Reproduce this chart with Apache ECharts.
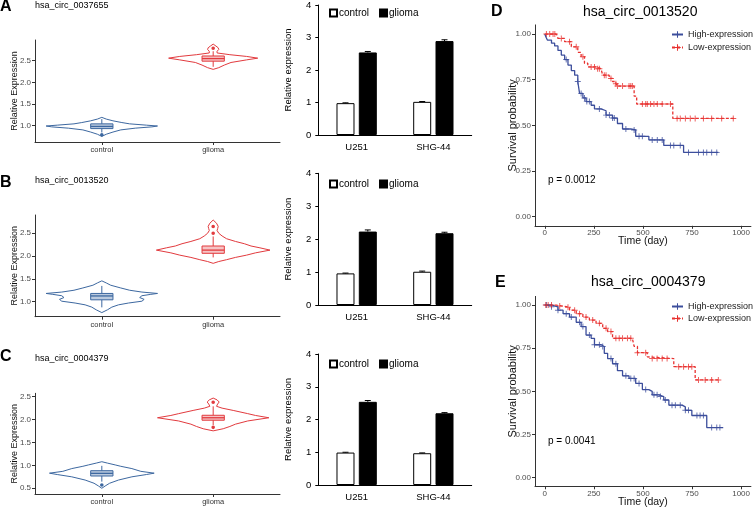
<!DOCTYPE html>
<html><head><meta charset="utf-8">
<script src="https://cdn.jsdelivr.net/npm/echarts@6/dist/echarts.min.js"></script>
<style>html,body{margin:0;padding:0;background:#fff}#c{width:753px;height:509px}</style>
</head><body><div id="c"></div>
<script>
// ---------- DATA ----------
const violinCategories = ['control', 'glioma'];
const violinTitles = ['hsa_circ_0037655', 'hsa_circ_0013520', 'hsa_circ_0004379'];
const aYTicks = [1.0, 1.5, 2.0, 2.5];
const bYTicks = [1.0, 1.5, 2.0, 2.5];
const cYTicks = [0.5, 1.0, 1.5, 2.0, 2.5];
// violin profiles: [value, half width in category units]
const aControlProfile = [[0.75,0],[0.80,0.04],[0.85,0.10],[0.90,0.17],[0.94,0.30],[0.97,0.45],[0.99,0.50],[1.01,0.40],[1.04,0.25],[1.07,0.18],[1.11,0.10],[1.15,0.04],[1.19,0]];
const aGliomaProfile = [[2.30,0],[2.34,0.05],[2.40,0.10],[2.46,0.16],[2.52,0.30],[2.56,0.40],[2.60,0.30],[2.64,0.15],[2.68,0.035],[2.72,0.035],[2.76,0.05],[2.80,0.045],[2.84,0.025],[2.885,0]];
const bControlProfile = [[0.76,0],[0.82,0.05],[0.88,0.09],[0.93,0.15],[0.97,0.24],[1.01,0.36],[1.05,0.38],[1.09,0.34],[1.13,0.36],[1.16,0.44],[1.18,0.50],[1.21,0.36],[1.25,0.25],[1.30,0.17],[1.36,0.08],[1.41,0.04],[1.456,0]];
const bGliomaProfile = [[1.84,0],[1.88,0.05],[1.92,0.12],[1.97,0.20],[2.02,0.30],[2.07,0.38],[2.13,0.51],[2.18,0.42],[2.22,0.34],[2.27,0.28],[2.32,0.20],[2.38,0.12],[2.44,0.08],[2.50,0.05],[2.56,0.035],[2.60,0.04],[2.65,0.045],[2.72,0.03],[2.79,0]];
const cControlProfile = [[0.50,0],[0.55,0.03],[0.61,0.07],[0.68,0.15],[0.75,0.27],[0.80,0.40],[0.83,0.47],[0.87,0.35],[0.93,0.27],[0.98,0.17],[1.01,0.12],[1.05,0.05],[1.08,0]];
const cGliomaProfile = [[1.754,0],[1.80,0.09],[1.85,0.15],[1.90,0.20],[1.97,0.31],[2.04,0.50],[2.09,0.38],[2.13,0.31],[2.20,0.18],[2.25,0.08],[2.29,0.03],[2.34,0.04],[2.384,0.054],[2.43,0.035],[2.47,0]];
// box: [whisker low, q1, median, q3, whisker high]
const aControlBox = [0.84, 0.93, 0.98, 1.04, 1.15];
const aGliomaBox = [2.36, 2.49, 2.55, 2.61, 2.72];
const bControlBox = [0.875, 1.04, 1.125, 1.18, 1.345];
const bGliomaBox = [1.97, 2.06, 2.13, 2.22, 2.43];
const cControlBox = [0.645, 0.768, 0.826, 0.884, 0.99];
const cGliomaBox = [1.88, 1.986, 2.04, 2.094, 2.29];
const aControlOut = [0.785];
const aGliomaOut = [2.79];
const bControlOut = [];
const bGliomaOut = [2.5, 2.647];
const cControlOut = [0.57];
const cGliomaOut = [1.83, 2.38];

const barCategories = ['U251', 'SHG-44'];
const barYTicks = [0, 1, 2, 3, 4];
const aBarControl = [0.98, 1.02], aBarGlioma = [2.54, 2.89];
const bBarControl = [0.96, 1.01], bBarGlioma = [2.23, 2.18];
const cBarControl = [0.99, 0.97], cBarGlioma = [2.54, 2.19];
const aBarControlErr = [0.01, 0.01], aBarGliomaErr = [0.03, 0.04];
const bBarControlErr = [0.01, 0.02], bBarGliomaErr = [0.05, 0.03];
const cBarControlErr = [0.01, 0.01], cBarGliomaErr = [0.04, 0.02];

const kmTitles = ['hsa_circ_0013520', 'hsa_circ_0004379'];
const kmPValues = ['p = 0.0012', 'p = 0.0041'];
const kmXTicks = [0, 250, 500, 750, 1000];
const kmYTicks = [0, 0.25, 0.5, 0.75, 1.0];
// [time, survival after event]
const dHigh = [[0,1],[5,0.985],[13,0.967],[34,0.95],[50,0.935],[67,0.91],[84,0.885],[101,0.86],[118,0.83],[135,0.80],[152,0.775],[168,0.74],[177,0.675],[194,0.65],[210,0.63],[236,0.61],[253,0.59],[286,0.58],[312,0.556],[345,0.54],[370,0.51],[396,0.48],[438,0.475],[463,0.44],[530,0.42],[606,0.39],[707,0.352],[884,0.352]];
const dLow = [[0,1],[59,0.995],[67,0.976],[101,0.958],[135,0.93],[168,0.90],[185,0.876],[202,0.84],[219,0.82],[261,0.81],[286,0.80],[295,0.775],[328,0.757],[345,0.74],[362,0.728],[370,0.715],[455,0.66],[468,0.617],[652,0.538],[968,0.538]];
const eHigh = [[0,1],[34,0.99],[67,0.97],[93,0.95],[126,0.93],[160,0.90],[185,0.875],[210,0.826],[236,0.807],[253,0.77],[286,0.76],[303,0.72],[320,0.69],[345,0.66],[370,0.62],[396,0.59],[429,0.575],[463,0.546],[497,0.51],[530,0.50],[547,0.48],[581,0.47],[606,0.45],[632,0.42],[699,0.41],[716,0.39],[749,0.36],[825,0.29],[909,0.29]];
const eLow = [[0,1],[59,0.995],[84,0.987],[126,0.97],[160,0.95],[194,0.93],[227,0.913],[261,0.894],[295,0.865],[320,0.846],[345,0.807],[446,0.80],[455,0.76],[472,0.724],[522,0.70],[530,0.69],[657,0.643],[766,0.566],[893,0.566]];
// censoring times
const dHighCensor = [109,168,185,202,214,227,278,312,329,345,354,413,455,480,497,547,573,598,640,657,690,732,783,808,825,850,876];
const dLowCensor = [8,25,42,51,84,126,160,194,236,253,269,278,303,312,337,362,370,396,429,438,446,497,514,522,539,556,573,598,640,674,690,716,741,766,808,850,901,960];
const eHighCensor = [8,34,67,109,135,177,194,227,253,278,295,337,362,413,438,455,480,514,556,572,589,614,648,665,690,716,732,775,791,808,850,876,892];
const eLowCensor = [5,17,34,76,118,152,177,210,244,278,312,337,362,379,396,421,438,472,514,547,572,598,623,682,707,732,749,783,817,850,884];

// ---------- STYLE ----------
const FONT = "'Liberation Sans', Arial, sans-serif";
const CTRL = '#3D68A0', CTRL_FILL = 'rgba(61,104,160,0.35)';
const GLI = '#E23A3E', GLI_FILL = 'rgba(226,58,62,0.30)';
const BLUE = '#3C4E9C', RED = '#E8312F';
const PLUS = 'path://M4.2,0H5.8V10H4.2Z M0,4.2H10V5.8H0Z';

const violinGrids = [
  {left: 35, top: 40, width: 245, height: 102},
  {left: 35, top: 215, width: 245, height: 101.7},
  {left: 35, top: 393.3, width: 245, height: 100.7}
];
const violinRanges = [[0.62, 2.98], [0.67, 2.90], [0.375, 2.574]];
const violinTicks = [aYTicks, bYTicks, cYTicks];
const violinItems = [
  [{pos:1, profile:aControlProfile, box:aControlBox, out:aControlOut, c:CTRL, f:CTRL_FILL},
   {pos:2, profile:aGliomaProfile, box:aGliomaBox, out:aGliomaOut, c:GLI, f:GLI_FILL}],
  [{pos:1, profile:bControlProfile, box:bControlBox, out:bControlOut, c:CTRL, f:CTRL_FILL},
   {pos:2, profile:bGliomaProfile, box:bGliomaBox, out:bGliomaOut, c:GLI, f:GLI_FILL}],
  [{pos:1, profile:cControlProfile, box:cControlBox, out:cControlOut, c:CTRL, f:CTRL_FILL},
   {pos:2, profile:cGliomaProfile, box:cGliomaBox, out:cGliomaOut, c:GLI, f:GLI_FILL}]
];

const barGrids = [
  {left: 318.3, top: 3, width: 153.4, height: 132},
  {left: 318.3, top: 173.3, width: 153.4, height: 131.7},
  {left: 318.3, top: 354, width: 153.4, height: 131}
];
const barControls = [aBarControl, bBarControl, cBarControl];
const barGliomas = [aBarGlioma, bBarGlioma, cBarGlioma];
const barControlErrs = [aBarControlErr, bBarControlErr, cBarControlErr];
const barGliomaErrs = [aBarGliomaErr, bBarGliomaErr, cBarGliomaErr];
const barLegendTops = [8, 179, 359];

const kmGrids = [
  {left: 535, top: 24.9, width: 218, height: 200.9},
  {left: 535, top: 296.4, width: 218, height: 189.9}
];
const kmHigh = [dHigh, eHigh], kmLow = [dLow, eLow];
const kmHighC = [dHighCensor, eHighCensor], kmLowC = [dLowCensor, eLowCensor];

function stepAt(curve, t) {
  let s = curve[0][1];
  for (const [ti, si] of curve) { if (ti <= t) s = si; }
  return s;
}

const grid = [], xAxis = [], yAxis = [], series = [], legend = [];

// violins
violinGrids.forEach((g, k) => {
  grid.push(g);
  xAxis.push({gridIndex: k, type: 'value', min: 0.4, max: 2.6,
    axisLine: {show: true, onZero: false, lineStyle: {color: '#333', width: 1}},
    axisTick: {show: true, length: 3, customValues: [1, 2], lineStyle: {color: '#333'}},
    axisLabel: {customValues: [1, 2], formatter: v => violinCategories[Math.round(v) - 1], fontSize: 7.5, color: '#333', margin: 4, fontFamily: FONT},
    splitLine: {show: false}});
  yAxis.push({gridIndex: k, type: 'value', min: violinRanges[k][0], max: violinRanges[k][1],
    axisLine: {show: true, onZero: false, lineStyle: {color: '#333', width: 1}},
    axisTick: {show: true, length: 3, customValues: violinTicks[k], lineStyle: {color: '#333'}},
    axisLabel: {customValues: violinTicks[k], formatter: v => v.toFixed(1), fontSize: 8, color: '#4d4d4d', margin: 4, fontFamily: FONT},
    splitLine: {show: false},
    name: 'Relative Expression', nameLocation: 'middle', nameGap: 16, nameMoveOverlap: false,
    nameTextStyle: {fontSize: 9, color: '#111', fontFamily: FONT}});
  const items = violinItems[k];
  series.push({type: 'custom', name: 'violin' + k, xAxisIndex: k, yAxisIndex: k, silent: true,
    data: items.map(it => [it.pos, it.box[2]]),
    renderItem: (params, api) => {
      const it = items[params.dataIndex];
      const P = (x, y) => api.coord([x, y]);
      const right = it.profile.map(([v, w]) => P(it.pos + w, v));
      const left = it.profile.slice().reverse().map(([v, w]) => P(it.pos - w, v));
      const [wl, q1, med, q3, wh] = it.box;
      const bw = 0.1;
      const tl = P(it.pos - bw, q3), br = P(it.pos + bw, q1);
      const children = [
        {type: 'polygon', shape: {points: right.concat(left)}, style: {fill: '#fff', stroke: it.c, lineWidth: 1}},
        {type: 'line', shape: {x1: P(it.pos, q3)[0], y1: P(it.pos, q3)[1], x2: P(it.pos, wh)[0], y2: P(it.pos, wh)[1]}, style: {stroke: it.c, lineWidth: 1}},
        {type: 'line', shape: {x1: P(it.pos, q1)[0], y1: P(it.pos, q1)[1], x2: P(it.pos, wl)[0], y2: P(it.pos, wl)[1]}, style: {stroke: it.c, lineWidth: 1}},
        {type: 'rect', shape: {x: tl[0], y: tl[1], width: br[0] - tl[0], height: br[1] - tl[1]}, style: {fill: it.f, stroke: it.c, lineWidth: 1}},
        {type: 'line', shape: {x1: tl[0], y1: P(it.pos, med)[1], x2: br[0], y2: P(it.pos, med)[1]}, style: {stroke: it.c, lineWidth: 1.3}}
      ];
      it.out.forEach(o => {
        const p = P(it.pos, o);
        children.push({type: 'circle', shape: {cx: p[0], cy: p[1], r: 1.8}, style: {fill: it.c}});
      });
      return {type: 'group', children};
    }});
});

// bars
barGrids.forEach((g, k) => {
  const gi = 3 + k;
  grid.push(g);
  xAxis.push({gridIndex: gi, type: 'category', data: barCategories,
    axisLine: {show: true, onZero: false, lineStyle: {color: '#000', width: 1}},
    axisTick: {show: false},
    axisLabel: {fontSize: 9.5, color: '#000', margin: 7, fontFamily: FONT}});
  yAxis.push({gridIndex: gi, type: 'value', min: 0, max: 4, interval: 1,
    axisLine: {show: true, onZero: false, lineStyle: {color: '#000', width: 1}},
    axisTick: {show: true, length: 3, lineStyle: {color: '#000'}},
    axisLabel: {fontSize: 9.5, color: '#000', margin: 7, fontFamily: FONT},
    splitLine: {show: false},
    name: 'Relative expression', nameLocation: 'middle', nameGap: 25, nameMoveOverlap: false,
    nameTextStyle: {fontSize: 9.5, color: '#000', fontFamily: FONT}});
  series.push({type: 'bar', name: 'control', xAxisIndex: gi, yAxisIndex: gi, data: barControls[k],
    barWidth: 18, barGap: '24%', itemStyle: {color: '#fff', borderColor: '#000', borderWidth: 1}});
  series.push({type: 'bar', name: 'glioma', xAxisIndex: gi, yAxisIndex: gi, data: barGliomas[k],
    barWidth: 18, barGap: '24%', itemStyle: {color: '#000', borderColor: '#000', borderWidth: 1}});
  [[barControls[k], barControlErrs[k], -11.15], [barGliomas[k], barGliomaErrs[k], 11.15]].forEach(([vals, errs, off]) => {
    series.push({type: 'custom', xAxisIndex: gi, yAxisIndex: gi, silent: true, z: 5,
      data: vals.map((v, i) => [i, v, errs[i]]),
      renderItem: (params, api) => {
        const a = api.coord([api.value(0), api.value(1)]);
        const b = api.coord([api.value(0), api.value(1) + api.value(2)]);
        const x = a[0] + off;
        return {type: 'group', children: [
          {type: 'line', shape: {x1: x, y1: a[1], x2: x, y2: b[1]}, style: {stroke: '#000', lineWidth: 1}},
          {type: 'line', shape: {x1: x - 3, y1: b[1], x2: x + 3, y2: b[1]}, style: {stroke: '#000', lineWidth: 1}}
        ]};
      }});
  });
  legend.push({data: ['control', 'glioma'], left: 329, top: barLegendTops[k], icon: 'rect',
    itemWidth: 7, itemHeight: 7, itemGap: 10, padding: 0, selectedMode: false,
    textStyle: {fontSize: 10, color: '#000', fontFamily: FONT, padding: [0, 0, 0, -3]}});
});

// KM
kmGrids.forEach((g, k) => {
  const gi = 6 + k;
  grid.push(g);
  xAxis.push({gridIndex: gi, type: 'value', min: -50, max: 1050,
    axisLine: {show: true, onZero: false, lineStyle: {color: '#333', width: 1}},
    axisTick: {show: true, length: 3, customValues: kmXTicks, lineStyle: {color: '#333'}},
    axisLabel: {customValues: kmXTicks, formatter: v => String(v), fontSize: 8, color: '#4d4d4d', margin: 3, fontFamily: FONT},
    splitLine: {show: false},
    name: 'Time (day)', nameLocation: 'middle', nameGap: 10, nameMoveOverlap: false,
    nameTextStyle: {fontSize: 10.5, color: '#111', fontFamily: FONT}});
  yAxis.push({gridIndex: gi, type: 'value', min: -0.05, max: 1.05,
    axisLine: {show: true, onZero: false, lineStyle: {color: '#333', width: 1}},
    axisTick: {show: true, length: 3, customValues: kmYTicks, lineStyle: {color: '#333'}},
    axisLabel: {customValues: kmYTicks, formatter: v => v.toFixed(2), fontSize: 8, color: '#4d4d4d', margin: 4, fontFamily: FONT},
    splitLine: {show: false},
    name: 'Survival probability', nameLocation: 'middle', nameGap: 17, nameMoveOverlap: false,
    nameTextStyle: {fontSize: 11, color: '#111', fontFamily: FONT}});
  series.push({type: 'line', name: 'High-expression', xAxisIndex: gi, yAxisIndex: gi, data: kmHigh[k],
    step: 'end', showSymbol: false, symbol: PLUS, symbolSize: 7, silent: true,
    itemStyle: {color: BLUE}, lineStyle: {color: BLUE, width: 1.3}});
  series.push({type: 'line', name: 'Low-expression', xAxisIndex: gi, yAxisIndex: gi, data: kmLow[k],
    step: 'end', showSymbol: false, symbol: PLUS, symbolSize: 7, silent: true,
    itemStyle: {color: RED}, lineStyle: {color: RED, width: 1.3, type: [3, 2]}});
  series.push({type: 'scatter', name: 'hc' + k, xAxisIndex: gi, yAxisIndex: gi, silent: true,
    data: kmHighC[k].map(t => [t, stepAt(kmHigh[k], t)]), symbol: PLUS, symbolSize: 6,
    itemStyle: {color: BLUE}});
  series.push({type: 'scatter', name: 'lc' + k, xAxisIndex: gi, yAxisIndex: gi, silent: true,
    data: kmLowC[k].map(t => [t, stepAt(kmLow[k], t)]), symbol: PLUS, symbolSize: 6,
    itemStyle: {color: RED}});
  legend.push({data: ['High-expression', 'Low-expression'], orient: 'vertical',
    left: 671, top: k === 0 ? 30 : 302, itemWidth: 11, itemHeight: 8, itemGap: k === 0 ? 4 : 3,
    padding: 0, selectedMode: false,
    textStyle: {fontSize: 9, color: '#222', fontFamily: FONT}});
});

const txt = (x, y, text, size, bold) => ({type: 'text', left: x, top: y,
  style: {text, fontSize: size, fontWeight: bold ? 'bold' : 'normal', fontFamily: FONT, fill: '#000'}});
const graphic = [
  txt(0, -1, 'A', 16, true), txt(0, 175, 'B', 16, true), txt(0, 349, 'C', 16, true),
  txt(491, 4, 'D', 16, true), txt(495, 275, 'E', 16, true),
  txt(35, 1, violinTitles[0], 9), txt(35, 176.5, violinTitles[1], 9), txt(35, 354, violinTitles[2], 9),
  txt(583, 5, kmTitles[0], 14), txt(591, 275, kmTitles[1], 14),
  txt(548, 175.5, kmPValues[0], 10), txt(548, 436.5, kmPValues[1], 10)
];

const chart = echarts.init(document.getElementById('c'), null, {renderer: 'canvas'});
chart.setOption({animation: false, backgroundColor: '#fff', grid, xAxis, yAxis, series, legend, graphic});
</script>
</body></html>
